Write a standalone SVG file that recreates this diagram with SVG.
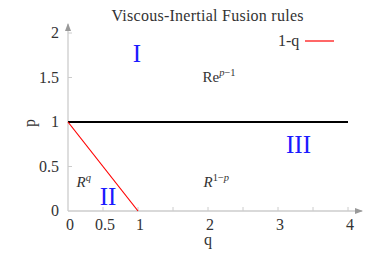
<svg xmlns="http://www.w3.org/2000/svg" width="383" height="258" viewBox="0 0 383 258">
<style>
text{font-family:"Liberation Serif","Times New Roman",serif;fill:#333}
.t{font-size:16px}
.roman{font-size:25px;fill:#1a1aff;text-anchor:middle}
.ax{stroke:#cccccc;stroke-width:1.3;fill:none}
.tick{stroke:#cccccc;stroke-width:1}
.lab{font-size:15px}
.sup{font-size:10.5px}
</style>
<defs>
<marker id="arr" markerWidth="8" markerHeight="6" refX="7" refY="3" orient="auto" markerUnits="userSpaceOnUse">
<path d="M0,0 L8,3 L0,6 Z" fill="#999"/>
</marker>
</defs>
<rect width="383" height="258" fill="#fff"/>
<g id="axes">
<line class="ax" x1="68" y1="211" x2="362" y2="211" marker-end="url(#arr)"/>
<line class="ax" x1="68" y1="211" x2="68" y2="24" marker-end="url(#arr)"/>
<g class="tick">
<line x1="103" y1="211" x2="103" y2="207"/>
<line x1="138" y1="211" x2="138" y2="207"/>
<line x1="173" y1="211" x2="173" y2="207"/>
<line x1="208" y1="211" x2="208" y2="207"/>
<line x1="243" y1="211" x2="243" y2="207"/>
<line x1="278" y1="211" x2="278" y2="207"/>
<line x1="313" y1="211" x2="313" y2="207"/>
<line x1="348" y1="211" x2="348" y2="207"/>
<line x1="68" y1="166.5" x2="72" y2="166.5"/>
<line x1="68" y1="122" x2="72" y2="122"/>
<line x1="68" y1="77.5" x2="72" y2="77.5"/>
<line x1="68" y1="33" x2="72" y2="33"/>
</g>
<g class="t" text-anchor="middle">
<text x="70" y="230">0</text>
<text x="105" y="230">0.5</text>
<text x="140" y="230">1</text>
<text x="210" y="230">2</text>
<text x="280" y="230">3</text>
<text x="350" y="230">4</text>
<text x="208" y="245">q</text>
</g>
<g class="t" text-anchor="end">
<text x="59" y="216">0</text>
<text x="59" y="172">0.5</text>
<text x="59" y="127">1</text>
<text x="59" y="83">1.5</text>
<text x="59" y="38">2</text>
</g>
<text class="t" transform="translate(35,123) rotate(-90)" text-anchor="middle">p</text>
</g>
<text id="title" class="t" x="207.5" y="21" text-anchor="middle" textLength="192">Viscous-Inertial Fusion rules</text>
<g id="connectors">
<line x1="68" y1="122" x2="348" y2="122" stroke="#000" stroke-width="2"/>
<line x1="68" y1="122" x2="138" y2="211" stroke="#ff0000" stroke-width="1.2"/>
</g>
<g id="legend">
<text class="t" x="278" y="46">1-q</text>
<line x1="305" y1="41" x2="334" y2="41" stroke="#ff0000" stroke-width="1.2"/>
</g>
<g id="region-I">
<text class="roman" x="137" y="61.5">I</text>
<text class="lab" x="202.5" y="81.5">Re<tspan class="sup" dy="-6" font-style="italic">p</tspan><tspan class="sup">−1</tspan></text>
</g>
<g id="region-II">
<text class="roman" x="108" y="205">II</text>
<text class="lab" x="76.5" y="187" font-style="italic">R<tspan class="sup" dy="-6.5">q</tspan></text>
</g>
<g id="region-III">
<text class="roman" x="298.5" y="153">III</text>
<text class="lab" x="203.5" y="187"><tspan font-style="italic">R</tspan><tspan class="sup" dy="-6.5">1−</tspan><tspan class="sup" font-style="italic">p</tspan></text>
</g>
</svg>
